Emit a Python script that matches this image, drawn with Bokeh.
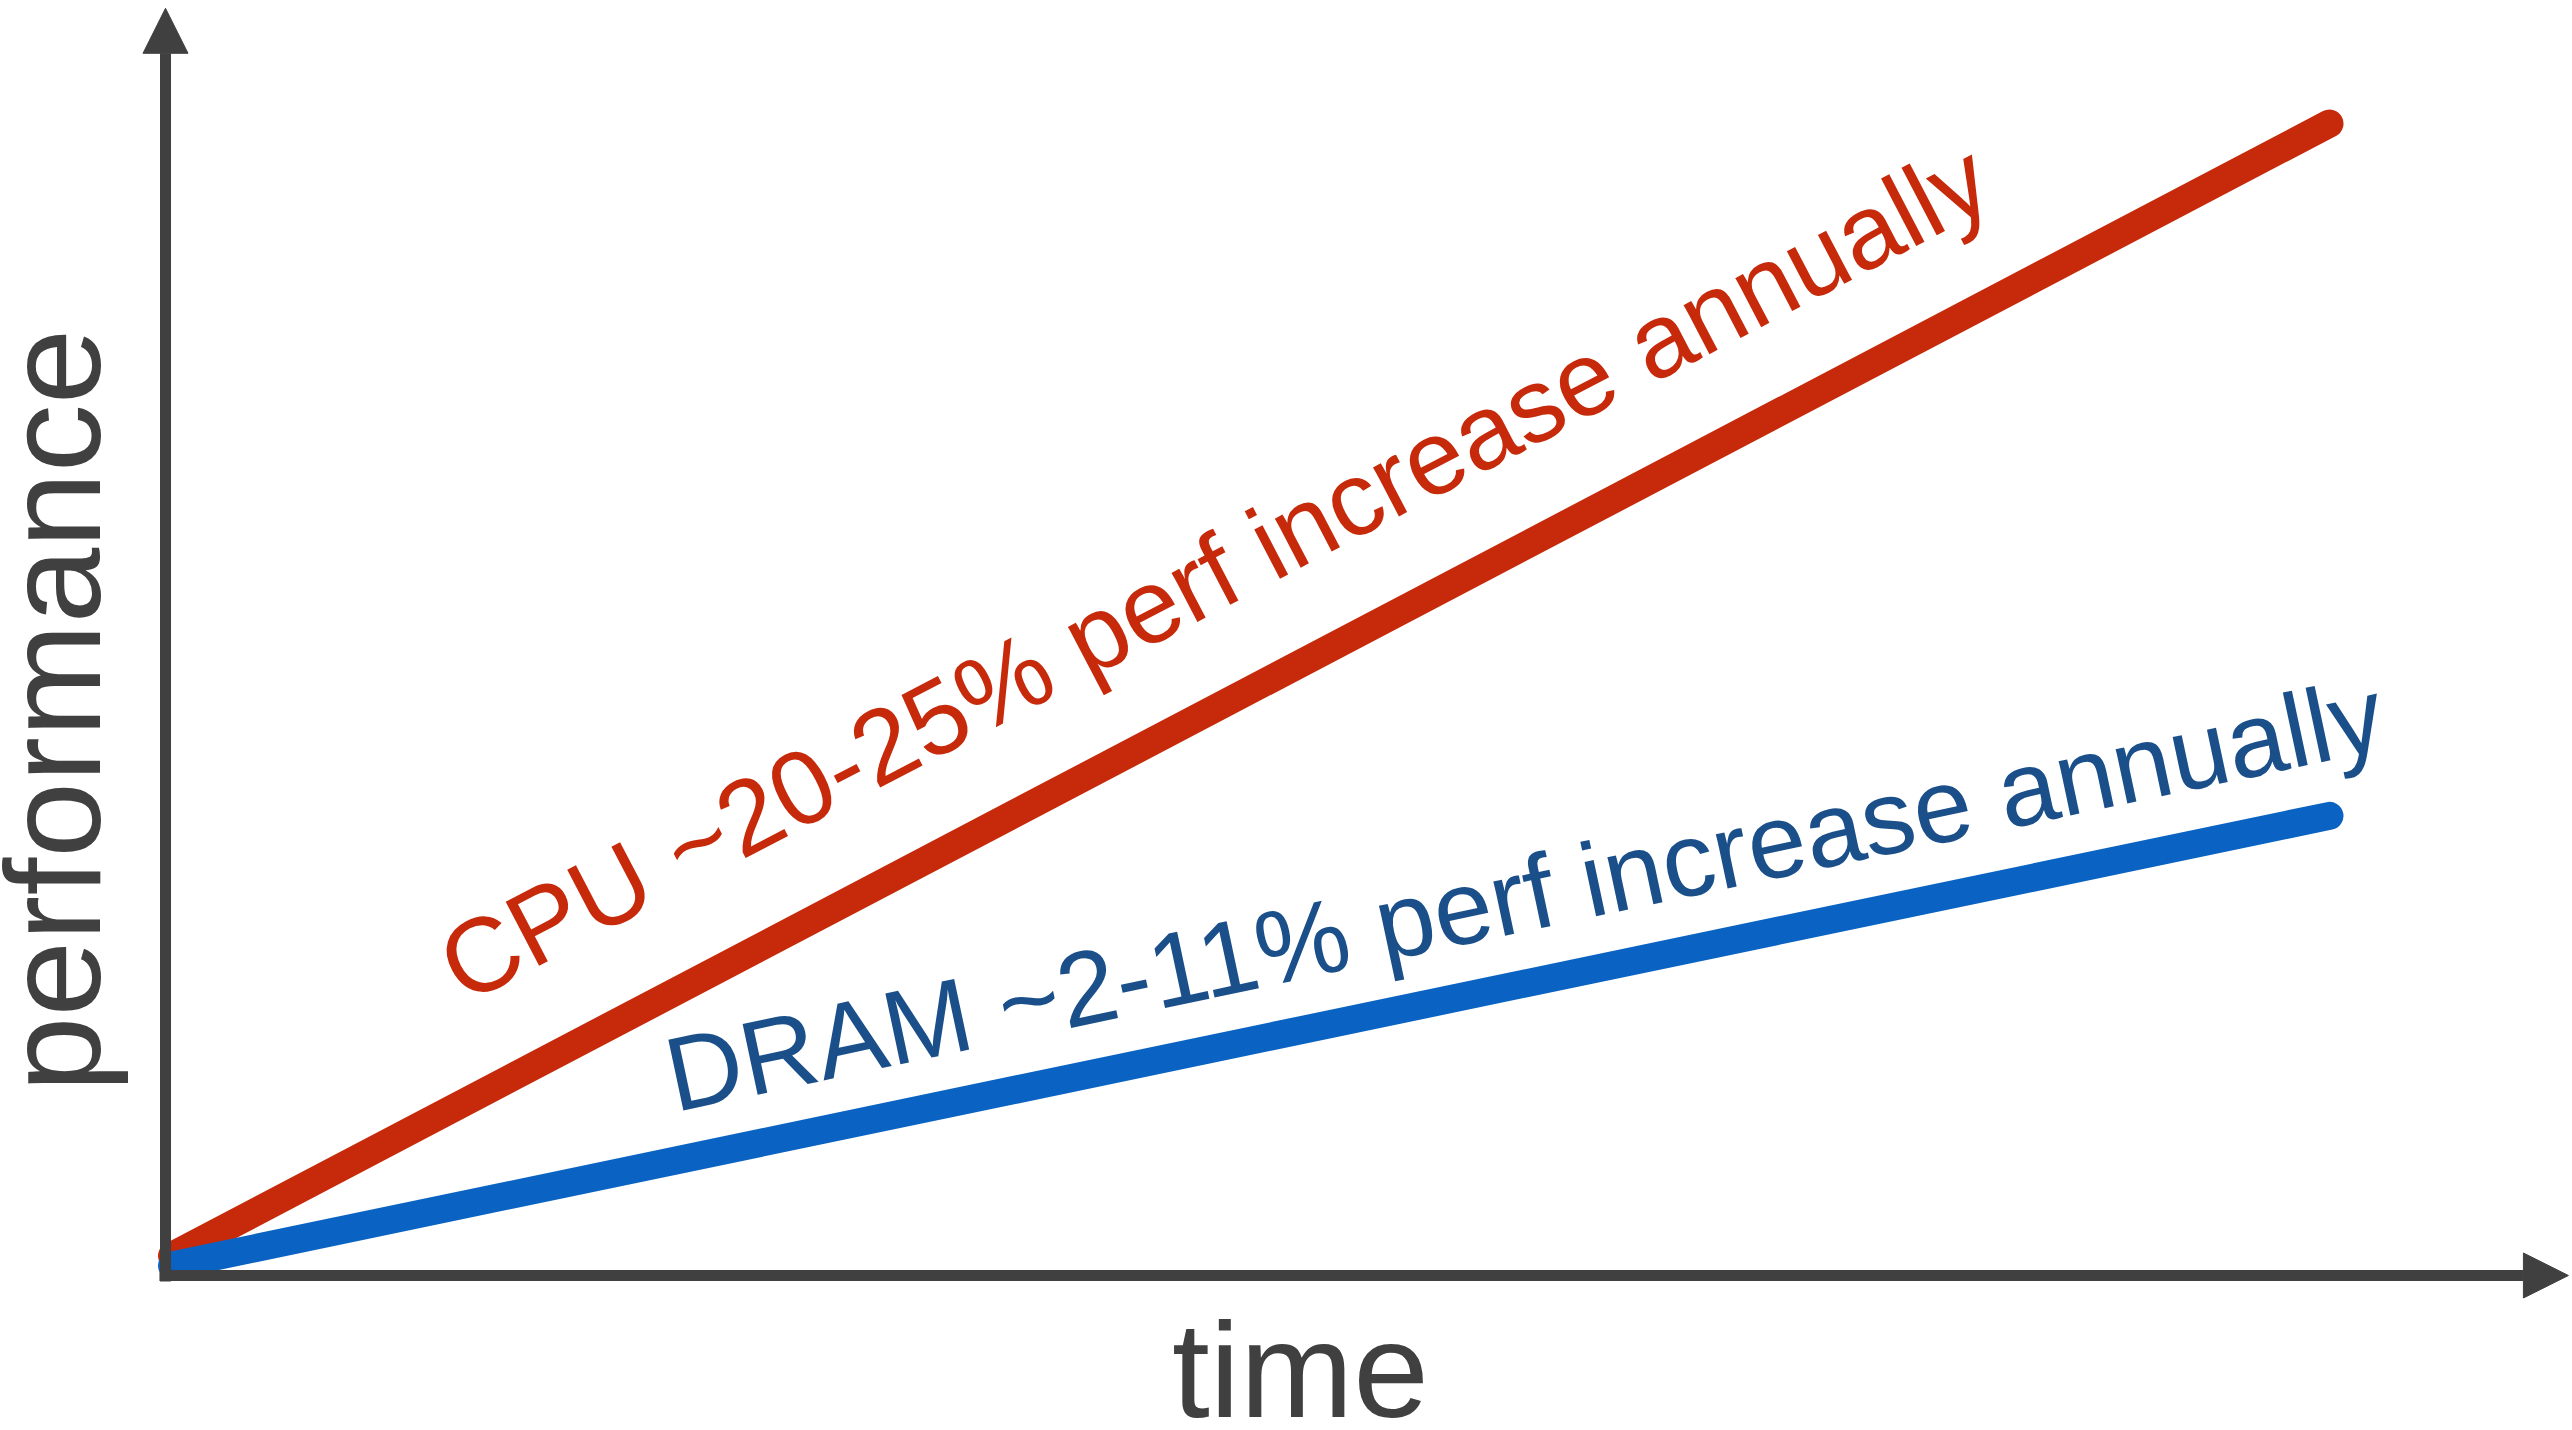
from bokeh.plotting import figure
from bokeh.models import Range1d, Label, Arrow, NormalHead
from bokeh.embed import file_html
from bokeh.resources import INLINE
import math

# ---- data (arbitrary units: schematic chart) ----
time = [0.03, 10.0]
cpu_perf = [0.17, 10.0]
dram_perf = [0.087, 3.99]

cpu_label = "CPU ~20-25% perf increase annually"
dram_label = "DRAM ~2-11% perf increase annually"
x_title = "time"
y_title = "performance"

# ---- styles ----
AXIS = "#404040"
RED_LINE = "#C62A0A"
RED_TEXT = "#C62A0A"
BLUE_LINE = "#0A63C2"
BLUE_TEXT = "#1A4F8A"
FONT = "Liberation Sans"

W, H = 2572, 1430
XPX, YPX = 216.4, 115.2          # pixels per data unit
X0, Y0 = -0.7625, -1.3455
p = figure(width=W, height=H,
           x_range=Range1d(X0, X0 + W / XPX), y_range=Range1d(Y0, Y0 + H / YPX),
           output_backend="svg", toolbar_location=None,
           x_axis_location=None, y_axis_location=None, min_border=0)
p.grid.visible = False
p.outline_line_color = None
p.background_fill_color = "white"
p.border_fill_color = "white"

# axes as arrows
p.add_layout(Arrow(end=NormalHead(size=45, fill_color=AXIS, line_color=AXIS, line_width=1),
                   x_start=0, y_start=-0.052, x_end=0, y_end=11.0,
                   line_color=AXIS, line_width=11))
p.add_layout(Arrow(end=NormalHead(size=45, fill_color=AXIS, line_color=AXIS, line_width=1),
                   x_start=-0.028, y_start=0, x_end=11.104, y_end=0,
                   line_color=AXIS, line_width=11))

# series lines
p.line(time, cpu_perf, line_color=RED_LINE, line_width=28, line_cap="round")
p.line(time, dram_perf, line_color=BLUE_LINE, line_width=28, line_cap="round")

BASE_FIX = 0.37  # em shift along text "up" to compensate baseline placement


def label(x, y, text, angle, size, color, align):
    a = math.radians(angle)
    d = BASE_FIX * size
    x2 = x - math.sin(a) * d / XPX
    y2 = y + math.cos(a) * d / YPX
    p.add_layout(Label(x=x2, y=y2, text=text, angle=angle, angle_units="deg",
                       text_font=FONT, text_font_size=f"{size}px", text_color=color,
                       text_align=align, text_baseline="alphabetic"))


label(1.386, 2.33, cpu_label, 27.6, 105, RED_TEXT, "left")
label(2.357, 1.398, dram_label, 12.0, 105, BLUE_TEXT, "left")
label(5.245, -1.259, x_title, 0, 136, AXIS, "center")
label(-0.2865, 4.905, y_title, 90, 136, AXIS, "center")

open("out.html", "w").write(file_html(p, INLINE))
